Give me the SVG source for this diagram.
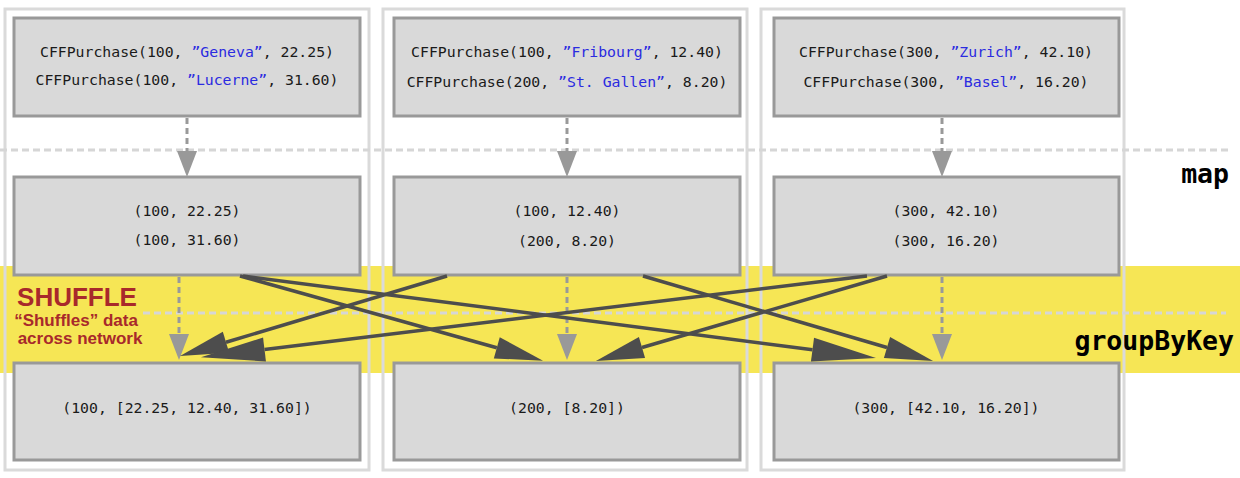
<svg xmlns="http://www.w3.org/2000/svg" width="1240" height="478" viewBox="0 0 1240 478">
<style>
.col{fill:none;stroke:#dadada;stroke-width:3}
.box{fill:#d9d9d9;stroke:#999;stroke-width:3}
.t{font-family:"DejaVu Sans Mono","Liberation Mono",monospace;font-size:14.8px;fill:#1a1a1a;text-anchor:middle}
.s{fill:#2b2be0}
.lbl{font-family:"DejaVu Sans Mono","Liberation Mono",monospace;font-size:26.5px;font-weight:bold;fill:#000;text-anchor:end}
.hd{fill:none;stroke:#d6d6d6;stroke-width:3;stroke-dasharray:7,4}
.ga{fill:none;stroke:#999;stroke-width:3;stroke-dasharray:6,4}
.da{fill:none;stroke:#4d4d4d;stroke-width:3.5}
.sh{font-family:"Liberation Sans",Arial,sans-serif;font-weight:bold;fill:#a8292b;text-anchor:middle}
</style>
<defs>
<marker id="gray" markerUnits="userSpaceOnUse" markerWidth="26" markerHeight="20" refX="0" refY="10" orient="auto" overflow="visible">
<path d="M0,0 L26,10 L0,20 z" fill="#999"/>
</marker>
<marker id="dk" markerUnits="userSpaceOnUse" markerWidth="48" markerHeight="22" refX="0" refY="11" orient="auto" overflow="visible">
<path d="M0,0 L48,11 L0,22 z" fill="#4d4d4d"/>
</marker>
<marker id="dkl" markerUnits="userSpaceOnUse" markerWidth="64" markerHeight="24" refX="0" refY="12" orient="auto" overflow="visible">
<path d="M0,0 L64,12 L0,24 z" fill="#4d4d4d"/>
</marker>
</defs>
<rect width="1240" height="478" fill="#fff"/>
<rect id="band" x="0" y="266" width="1240" height="107" fill="#f6e655"/>
<g id="columns">
<rect class="col" x="5" y="9" width="364" height="461"/>
<rect class="col" x="383" y="9" width="364" height="461"/>
<rect class="col" x="761" y="9" width="363" height="461"/>
</g>
<line class="hd" x1="0" y1="150" x2="1232" y2="150"/>
<line class="hd" x1="143" y1="313" x2="1226" y2="313"/>
<g id="top1"><rect class="box" x="14" y="18" width="346" height="98"/>
<text class="t" x="187" y="57">CFFPurchase(100, <tspan class="s">”Geneva”</tspan>, 22.25)</text>
<text class="t" x="187" y="85">CFFPurchase(100, <tspan class="s">”Lucerne”</tspan>, 31.60)</text></g>
<g id="top2"><rect class="box" x="394" y="18" width="346" height="98"/>
<text class="t" x="567" y="57">CFFPurchase(100, <tspan class="s">”Fribourg”</tspan>, 12.40)</text>
<text class="t" x="567" y="87">CFFPurchase(200, <tspan class="s">”St. Gallen”</tspan>, 8.20)</text></g>
<g id="top3"><rect class="box" x="774" y="18" width="345" height="98"/>
<text class="t" x="946" y="57">CFFPurchase(300, <tspan class="s">”Zurich”</tspan>, 42.10)</text>
<text class="t" x="946" y="87">CFFPurchase(300, <tspan class="s">”Basel”</tspan>, 16.20)</text></g>
<g id="mid1"><rect class="box" x="14" y="177" width="346" height="98"/>
<text class="t" x="187" y="216">(100, 22.25)</text>
<text class="t" x="187" y="245">(100, 31.60)</text></g>
<g id="mid2"><rect class="box" x="394" y="177" width="346" height="98"/>
<text class="t" x="567" y="216">(100, 12.40)</text>
<text class="t" x="567" y="246">(200, 8.20)</text></g>
<g id="mid3"><rect class="box" x="774" y="177" width="345" height="98"/>
<text class="t" x="946" y="216">(300, 42.10)</text>
<text class="t" x="946" y="246">(300, 16.20)</text></g>
<g id="bot1"><rect class="box" x="14" y="363" width="346" height="97"/>
<text class="t" x="187" y="413">(100, [22.25, 12.40, 31.60])</text></g>
<g id="bot2"><rect class="box" x="394" y="363" width="346" height="97"/>
<text class="t" x="567" y="413">(200, [8.20])</text></g>
<g id="bot3"><rect class="box" x="774" y="363" width="345" height="97"/>
<text class="t" x="946" y="413">(300, [42.10, 16.20])</text></g>
<g id="connectors">
<path class="ga" d="M187,118 L187,151" marker-end="url(#gray)"/>
<path class="ga" d="M567,118 L567,151" marker-end="url(#gray)"/>
<path class="ga" d="M942,118 L942,151" marker-end="url(#gray)"/>
<path class="ga" d="M179,277 L179,334" marker-end="url(#gray)"/>
<path class="ga" d="M567,277 L567,334" marker-end="url(#gray)"/>
<path class="ga" d="M942,277 L942,334" marker-end="url(#gray)"/>
<path class="da" d="M243,276 L812.5,349.7" marker-end="url(#dkl)"/>
<path class="da" d="M240,276 L496.8,347.8" marker-end="url(#dk)"/>
<path class="da" d="M447,276 L226,342.2" marker-end="url(#dk)"/>
<path class="da" d="M867,276 L264.5,349.5" marker-end="url(#dkl)"/>
<path class="da" d="M643,276 L887,347.5" marker-end="url(#dk)"/>
<path class="da" d="M887,276 L642,347.5" marker-end="url(#dk)"/>
</g>
<g id="labels">
<text class="lbl" x="1229" y="183">map</text>
<text class="lbl" x="1234" y="350">groupByKey</text>
<text class="sh" x="77" y="306" font-size="26px">SHUFFLE</text>
<text class="sh" x="76" y="326" font-size="17px">“Shuffles” data</text>
<text class="sh" x="80" y="344" font-size="17px">across network</text>
</g>
</svg>
